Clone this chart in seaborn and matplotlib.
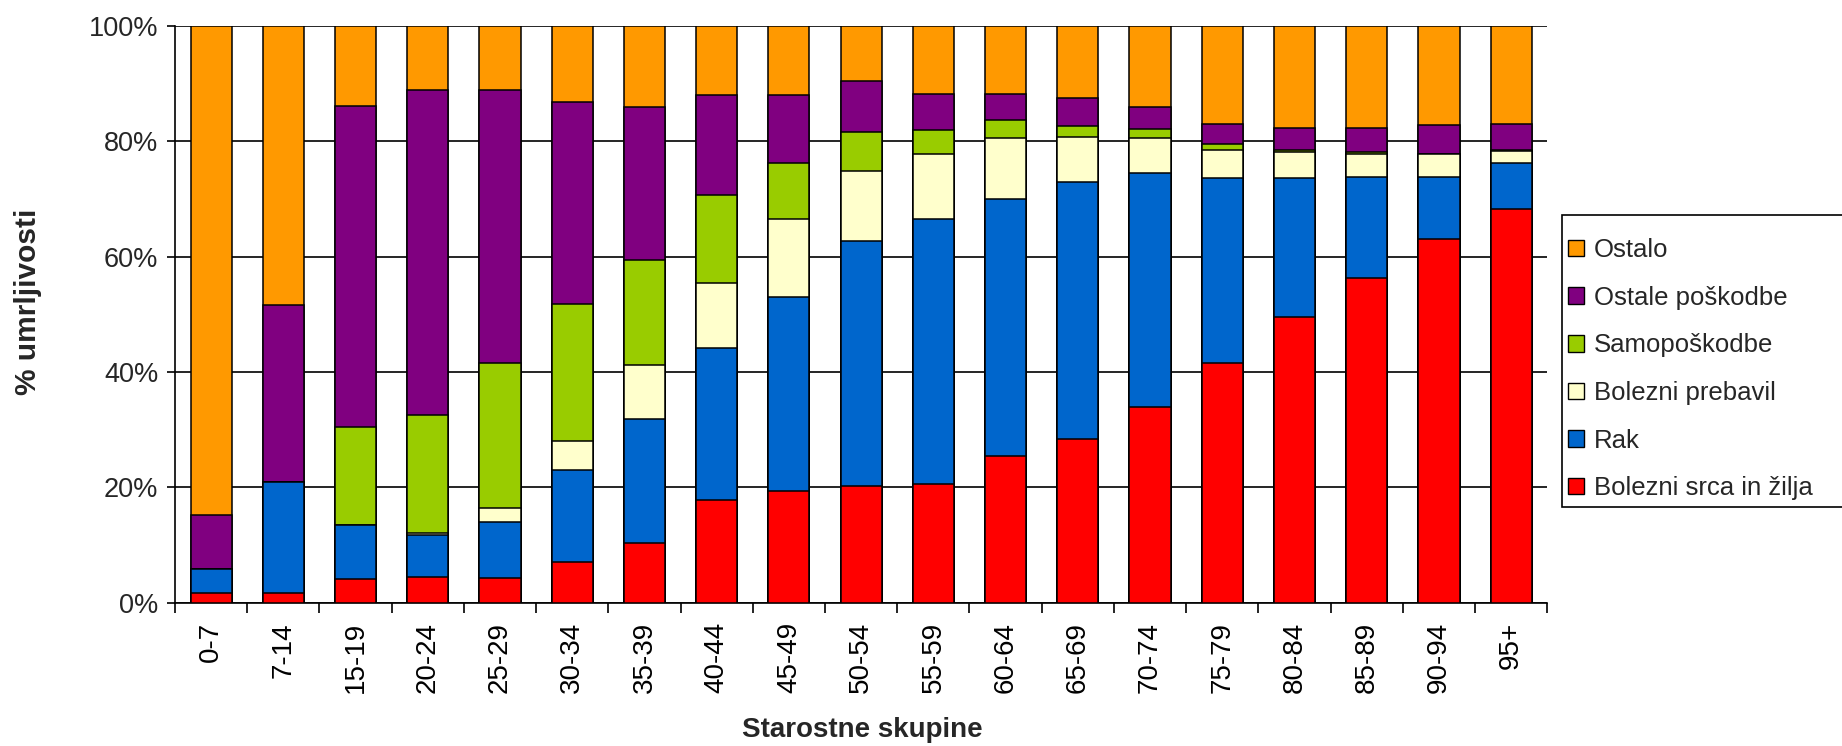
import matplotlib
matplotlib.use("Agg")
import matplotlib.pyplot as plt
from matplotlib.patches import Patch, Rectangle
from matplotlib.ticker import FixedLocator
import numpy as np
import pandas as pd
import seaborn as sns

ages = ["0-7", "7-14", "15-19", "20-24", "25-29", "30-34", "35-39", "40-44",
        "45-49", "50-54", "55-59", "60-64", "65-69", "70-74", "75-79", "80-84",
        "85-89", "90-94", "95+"]

srce = [1.7, 1.7, 4.1, 4.5, 4.3, 7.1, 10.4, 17.9, 19.3, 20.2, 20.6, 25.5, 28.4,
        34.0, 41.6, 49.5, 56.4, 63.1, 68.3]
rak = [4.1, 19.3, 9.3, 7.2, 9.7, 15.9, 21.4, 26.2, 33.7, 42.5, 45.9, 44.6, 44.5,
       40.6, 32.0, 24.1, 17.5, 10.8, 7.9]
prebavila = [0.0, 0.0, 0.0, 0.4, 2.4, 5.1, 9.5, 11.3, 13.5, 12.2, 11.3, 10.5, 7.8,
             6.0, 4.9, 4.5, 3.9, 3.9, 2.2]
samoposkodbe = [0.0, 0.0, 17.0, 20.4, 25.2, 23.7, 18.2, 15.3, 9.8, 6.7, 4.1, 3.1,
                2.0, 1.5, 1.1, 0.4, 0.4, 0.1, 0.1]
poskodbe = [9.4, 30.6, 55.7, 56.4, 47.3, 35.1, 26.5, 17.3, 11.7, 8.8, 6.4, 4.6,
            4.9, 3.8, 3.5, 3.9, 4.2, 4.9, 4.6]
ostalo = [84.8, 48.4, 13.9, 11.1, 11.1, 13.1, 14.0, 12.0, 12.0, 9.6, 11.7, 11.7,
          12.4, 14.1, 16.9, 17.6, 17.6, 17.2, 16.9]

series_names = ["Bolezni srca in žilja", "Rak", "Bolezni prebavil",
                "Samopoškodbe", "Ostale poškodbe", "Ostalo"]
series_vals = [srce, rak, prebavila, samoposkodbe, poskodbe, ostalo]
colors = ["#FF0000", "#0066CC", "#FFFFCC", "#99CC00", "#800080", "#FF9900"]

sns.set_theme(style="white")
plt.rcParams["font.family"] = ["Liberation Sans", "DejaVu Sans"]

W, H = 1842, 746
fig = plt.figure(figsize=(W / 100, H / 100), dpi=100)
ax = fig.add_axes([0.095, 0.192, 0.745, 0.773])

cum = np.cumsum(np.array(series_vals, dtype=float), axis=0)
# draw from top layer down so lower layers overlay
for i in range(len(series_names) - 1, -1, -1):
    df = pd.DataFrame({"age": ages, "val": cum[i]})
    sns.barplot(data=df, x="age", y="val", order=ages, color=colors[i],
                saturation=1, width=0.57, edgecolor="black", linewidth=1.1,
                ax=ax, errorbar=None, zorder=3)

ax.set_xlim(-0.5, len(ages) - 0.5)
ax.set_ylim(0, 100)
ax.set_yticks([0, 20, 40, 60, 80, 100])
ax.set_yticklabels(["0%", "20%", "40%", "60%", "80%", "100%"], fontsize=19.5)
ax.yaxis.grid(True, color="black", linewidth=1.2)
ax.set_axisbelow(True)
ax.xaxis.grid(False)

ax.set_xticks(range(len(ages)))
ax.set_xticklabels(ages, rotation=90, fontsize=20)
ax.xaxis.set_minor_locator(FixedLocator(np.arange(-0.5, len(ages), 1.0)))
ax.tick_params(axis="x", which="major", length=0, pad=14, colors="black")
ax.tick_params(axis="x", which="minor", length=7, width=1.2, color="black",
               direction="out", bottom=True)
ax.tick_params(axis="y", which="major", length=6, width=1.2, color="black",
               direction="out", left=True, pad=6)

for s in ["top", "right"]:
    ax.spines[s].set_visible(False)
for s in ["left", "bottom"]:
    ax.spines[s].set_visible(True)
    ax.spines[s].set_color("black")
    ax.spines[s].set_linewidth(1.2)

ax.set_xlabel("")
ax.set_ylabel("")

fig.text(862 / W, 1 - 730 / H, "Starostne skupine", ha="center",
         va="center", fontsize=20, fontweight="bold")
fig.text(28 / W, 1 - 302 / H, "% umrljivosti", ha="center", va="center",
         rotation=90, fontsize=21.5, fontweight="bold")

# legend frame (extends past the right edge as in the original)
fig.add_artist(Rectangle((1562 / W, 1 - 507 / H), (1950 - 1562) / W,
                         (507 - 215) / H, transform=fig.transFigure,
                         fill=True, facecolor="white", edgecolor="black",
                         linewidth=1.2, zorder=1))

handles = [Patch(facecolor=colors[i], edgecolor="black", linewidth=1.0,
                 label=series_names[i]) for i in range(len(series_names) - 1, -1, -1)]
leg = fig.legend(handles=handles, loc="upper left",
                 bbox_to_anchor=(1568 / W, 1 - 238 / H), fontsize=18.5,
                 frameon=False, borderaxespad=0, borderpad=0,
                 handlelength=0.62, handleheight=0.62, handletextpad=0.4,
                 labelspacing=0.92)
leg.set_zorder(2)

fig.savefig("out.png", dpi=100, facecolor="white")
